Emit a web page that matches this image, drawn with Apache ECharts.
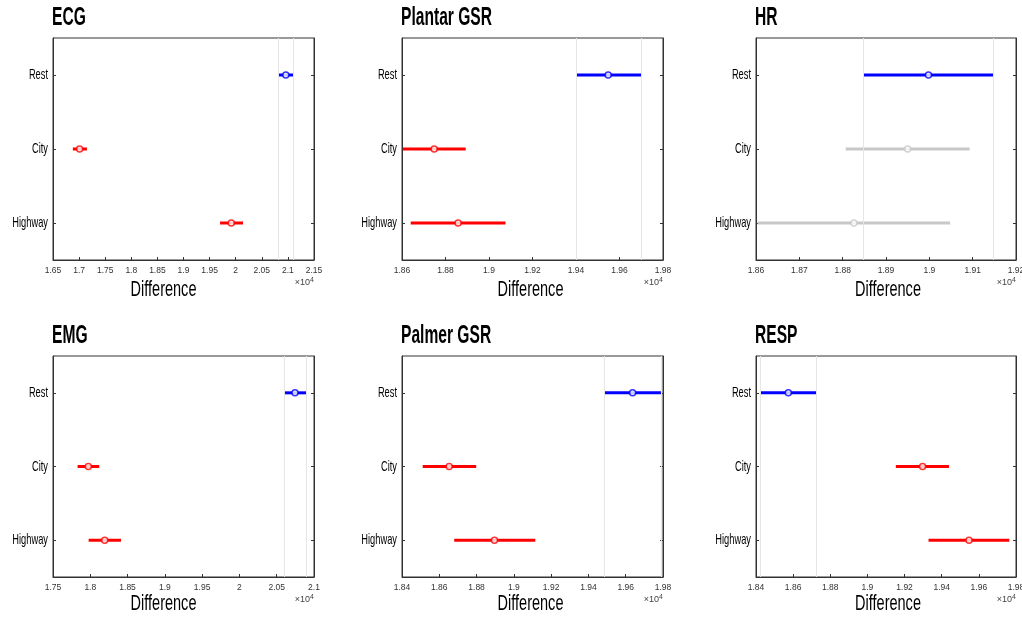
<!DOCTYPE html>
<html lang="en">
<head>
    <meta charset="UTF-8">
    <title>Difference by condition</title>
    <script src="https://cdn.jsdelivr.net/npm/echarts@6/dist/echarts.min.js"></script>
    <style>
        html, body { margin: 0; padding: 0; background: #fff; }
    </style>
</head>
<body>
    <div id="main" style="width:1022px; height:618px;"></div>
    <script>
        // groups, top to bottom
        var groups = ['Rest', 'City', 'Highway'];
        var titles = ['ECG', 'Plantar GSR', 'HR', 'EMG', 'Palmer GSR', 'RESP'];
        var xName = 'Difference';

        // group means and interval ends (values in raw units, axis shows x10^4)
        var ecgMean = [20960, 17010, 19915];
        var ecgLow = [20810, 16880, 19700];
        var ecgHigh = [21100, 17150, 20140];

        var plantarMean = [19548, 18748, 18858];
        var plantarLow = [19400, 18604, 18640];
        var plantarHigh = [19700, 18893, 19076];

        var hrMean = [18998, 18950, 18826];
        var hrLow = [18848, 18807, 18604];
        var hrHigh = [19148, 19093, 19048];

        var emgMean = [20745, 17974, 18193];
        var emgLow = [20598, 17830, 17978];
        var emgHigh = [20897, 18120, 18412];

        var palmerMean = [19637, 18653, 18896];
        var palmerLow = [19486, 18511, 18680];
        var palmerHigh = [19789, 18798, 19115];

        var respMean = [18574, 19297, 19547];
        var respLow = [18425, 19153, 19329];
        var respHigh = [18727, 19439, 19764];

        // 'ref' = selected group, 'sig' = differs from it, 'ns' = not different
        var ecgSig = ['ref', 'sig', 'sig'];
        var plantarSig = ['ref', 'sig', 'sig'];
        var hrSig = ['ref', 'ns', 'ns'];
        var emgSig = ['ref', 'sig', 'sig'];
        var palmerSig = ['ref', 'sig', 'sig'];
        var respSig = ['ref', 'sig', 'sig'];

        // axis ranges
        var axisMin = [16500, 18600, 18600, 17500, 18400, 18400];
        var axisMax = [21500, 19800, 19200, 21000, 19800, 19800];
        var axisStep = [500, 200, 100, 500, 200, 200];

        var panels = [
            { mean: ecgMean, low: ecgLow, high: ecgHigh, sig: ecgSig },
            { mean: plantarMean, low: plantarLow, high: plantarHigh, sig: plantarSig },
            { mean: hrMean, low: hrLow, high: hrHigh, sig: hrSig },
            { mean: emgMean, low: emgLow, high: emgHigh, sig: emgSig },
            { mean: palmerMean, low: palmerLow, high: palmerHigh, sig: palmerSig },
            { mean: respMean, low: respLow, high: respHigh, sig: respSig }
        ];

        var sigColor = { ref: '#0000ff', sig: '#ff0000', ns: '#c8c8c8' };

        // layout
        var colLeft = [53, 402, 756];
        var colWidth = [261, 261, 260];
        var rowTop = [38, 356];
        var rowHeight = [222, 221];
        var nameShift = [-20, -2, 2];     // matlab puts the first column's xlabel off centre
        var nameDrop = [29.5, 27];
        var squeeze = 0.62;               // no condensed face installed, so text is narrowed by scaling
        var face = "'Liberation Sans', Arial, sans-serif";

        var myChart = echarts.init(document.getElementById('main'));

        var grid = [], xAxis = [], yAxis = [], series = [];

        panels.forEach(function (p, i) {
            var r = Math.floor(i / 3), c = i % 3;
            grid.push({
                left: colLeft[c], top: rowTop[r], width: colWidth[c], height: rowHeight[r],
                outerBoundsMode: 'none', containLabel: false,
                show: true, borderColor: '#333', borderWidth: 1, backgroundColor: '#fff'
            });
            xAxis.push({
                type: 'value', gridIndex: i,
                min: axisMin[i], max: axisMax[i], interval: axisStep[i],
                axisLine: { show: true, lineStyle: { color: '#333' } },
                axisTick: { show: true, inside: true, length: 3, lineStyle: { color: '#333' } },
                splitLine: { show: false },
                axisLabel: {
                    fontSize: 8.5, color: '#333', margin: 6, fontFamily: 'Liberation Sans',
                    formatter: function (v) { return String(+(v / 10000).toFixed(4)); }
                }
            });
            yAxis.push({
                type: 'category', gridIndex: i, data: groups.slice().reverse(),
                axisLine: { show: true, lineStyle: { color: '#333' } },
                axisTick: { show: true, inside: true, length: 3, alignWithLabel: true, lineStyle: { color: '#333' } },
                axisLabel: { show: false },
                splitLine: { show: false }
            });
            yAxis.push({
                type: 'category', gridIndex: i, position: 'right', data: groups.slice().reverse(),
                axisLine: { show: true, lineStyle: { color: '#333' } },
                axisTick: { show: true, inside: true, length: 3, alignWithLabel: true, lineStyle: { color: '#333' } },
                axisLabel: { show: false },
                splitLine: { show: false }
            });

            var barData = [], dotData = [];
            groups.forEach(function (g, k) {
                var col = sigColor[p.sig[k]];
                barData.push({ value: [p.low[k], p.high[k], g], itemStyle: { color: col } });
                dotData.push({ value: [p.mean[k], g], itemStyle: { borderColor: col, color: '#fff' } });
            });

            series.push({
                type: 'custom', xAxisIndex: i, yAxisIndex: 2 * i,
                encode: { x: [0, 1], y: 2 },
                data: barData,
                clip: true,
                renderItem: function (params, api) {
                    var a = api.coord([api.value(0), api.value(2)]);
                    var b = api.coord([api.value(1), api.value(2)]);
                    return {
                        type: 'line',
                        shape: { x1: a[0], y1: a[1], x2: b[0], y2: b[1] },
                        style: { stroke: api.visual('color'), lineWidth: 3 }
                    };
                },
                z: 3
            });
            series.push({
                type: 'scatter', xAxisIndex: i, yAxisIndex: 2 * i,
                symbol: 'circle', symbolSize: 6,
                itemStyle: { borderWidth: 1.5 },
                data: dotData,
                z: 4,
                markLine: {
                    silent: true, symbol: 'none', animation: false,
                    label: { show: false },
                    lineStyle: { color: '#e6e6e6', width: 1, type: 'solid' },
                    data: [{ xAxis: p.low[0] }, { xAxis: p.high[0] }]
                }
            });
        });

        myChart.setOption({
            animation: false,
            backgroundColor: '#fff',
            grid: grid,
            xAxis: xAxis,
            yAxis: yAxis,
            series: series
        });

        // texts: titles, category labels, xlabels and the exponent note
        var graphic = [];
        panels.forEach(function (p, i) {
            var r = Math.floor(i / 3), c = i % 3;
            var bottom = rowTop[r] + rowHeight[r];
            graphic.push({
                type: 'text', x: colLeft[c] - 1, y: rowTop[r] - 20.5, scaleX: 0.6,
                style: { text: titles[i], font: 'bold 26px ' + face, fill: '#000', align: 'left', verticalAlign: 'middle' }
            });
            groups.forEach(function (g) {
                var py = myChart.convertToPixel({ yAxisIndex: 2 * i }, g);
                graphic.push({
                    type: 'text', x: colLeft[c] - 5, y: py, scaleX: squeeze,
                    style: { text: g, font: '15px ' + face, fill: '#000', align: 'right', verticalAlign: 'middle' }
                });
            });
            graphic.push({
                type: 'text', x: colLeft[c] + colWidth[c] / 2 + nameShift[c], y: bottom + nameDrop[r], scaleX: 0.66,
                style: { text: xName, font: '22px ' + face, fill: '#000', align: 'center', verticalAlign: 'middle' }
            });
            graphic.push({
                type: 'text', x: colLeft[c] + colWidth[c], y: bottom + 17,
                style: {
                    text: '×10{s|4}', fill: '#444', font: '9px ' + face, align: 'right', verticalAlign: 'top',
                    rich: { s: { fontSize: 7, verticalAlign: 'top', padding: [0, 0, 4, 0] } }
                }
            });
        });
        myChart.setOption({ graphic: graphic });
    </script>
</body>
</html>
